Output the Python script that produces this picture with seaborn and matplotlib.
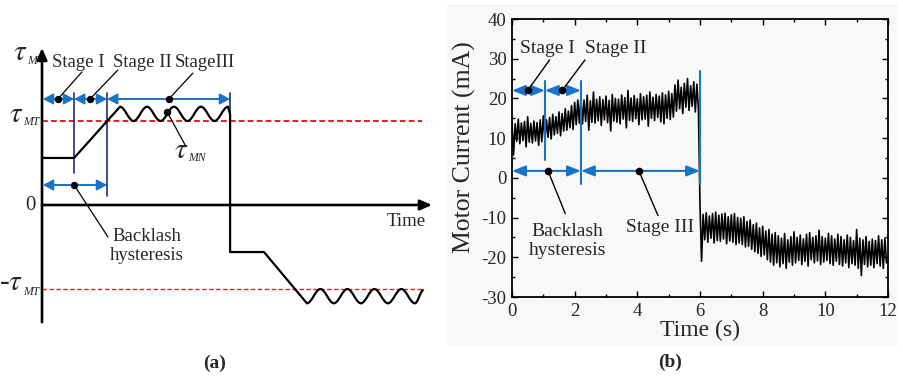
import numpy as np
import pandas as pd
import matplotlib
matplotlib.use("Agg")
import matplotlib.pyplot as plt
import seaborn as sns
from matplotlib.path import Path
from matplotlib.patches import PathPatch, Rectangle

sns.set_theme(style="ticks")
plt.rcParams["font.family"] = ["Liberation Serif", "DejaVu Serif"]
plt.rcParams["mathtext.fontset"] = "stix"
plt.rcParams["axes.unicode_minus"] = False

# ---------------- data: panel (a) schematic ----------------
ramp_up_x = [0.0, 1.07, 2.6]
ramp_up_y = [0.56, 0.56, 1.17]
pos_wave_x = [2.6, 3.05, 3.5, 3.95, 4.4, 4.85, 5.3, 5.75, 6.2]
pos_wave_y = [1.17, 1.0, 1.17, 1.0, 1.17, 1.0, 1.17, 1.0, 1.17]
drop_x = [6.27, 6.27, 7.4, 8.83]
drop_y = [1.08, -0.56, -0.56, -1.17]
neg_wave_x = [8.83, 9.28, 9.73, 10.18, 10.63, 11.08, 11.53, 11.98, 12.43, 12.72]
neg_wave_y = [-1.17, -1.0, -1.17, -1.0, -1.17, -1.0, -1.17, -1.0, -1.17, -1.01]
tau_mt = 1.0
stage_bounds_a = [0.03, 1.07, 2.17, 6.27]
stage_labels_a = ["Stage I", "Stage II", "StageIII"]

# ---------------- data: panel (b) motor current ----------------
current_hi = [
    14.0, 13.6, 14.8, 13.8, 14.2, 15.4, 13.7, 14.3, 13.9, 14.6,
    15.6, 14.6, 15.2, 16.0, 15.4, 16.6, 16.2, 17.4, 16.8, 18.2, 19.0, 19.6,
    20.2, 19.6, 20.8, 19.4, 21.6, 19.8, 20.4, 19.7, 20.6, 19.5,
    21.0, 20.0, 19.8, 20.9, 20.2, 22.0, 20.1, 20.7, 19.9, 21.2,
    20.4, 20.8, 21.6, 20.3, 21.0, 20.6, 21.4, 20.9, 21.8, 21.2,
    23.4, 24.6, 22.8, 23.8, 25.0, 23.2, 24.2, 23.6,
    -7.0, -9.2, -8.8, -9.6, -9.0, -8.6, -9.4, -9.1, -8.9, -9.8, -9.3, -9.0, -10.0,
    -10.2, -9.8, -11.0, -10.6, -11.8, -11.4, -12.6, -12.2, -13.4, -13.0, -14.2, -13.8,
    -14.6, -15.2, -14.0, -15.6, -14.8, -13.6, -15.0, -14.4, -15.4, -14.2,
    -13.8, -15.0, -14.6, -13.2, -14.8, -15.2, -14.0, -14.6, -15.4, -14.2,
    -14.8, -15.6, -14.4, -15.0, -15.8, -13.0, -15.2, -15.6, -14.8, -16.0,
    -15.4, -15.8, -14.6, -15.6, -15.2,
]
current_lo = [
    5.8, 9.2, 8.6, 9.4, 7.8, 9.0, 8.8, 9.3, 8.2, 9.1,
    9.6, 10.2, 9.8, 10.8, 11.2, 10.6, 11.8, 12.0, 12.6, 12.2, 13.4, 13.8,
    13.6, 14.2, 12.0, 14.0, 13.8, 14.4, 13.2, 14.6, 13.9, 11.8,
    14.3, 14.0, 13.6, 14.8, 12.6, 14.5, 14.2, 14.9, 13.4, 14.6,
    14.8, 13.0, 15.0, 14.4, 15.2, 14.1, 13.6, 15.0, 14.7, 15.3,
    16.8, 17.4, 16.2, 17.8, 17.0, 18.0, 16.6, 17.2,
    -21.0, -15.6, -16.2, -15.2, -16.4, -15.8, -16.0, -15.4, -16.6, -15.9, -16.2, -16.8, -16.4,
    -16.8, -17.4, -17.2, -18.0, -18.6, -19.0, -19.8, -19.4, -20.6, -21.2, -22.0, -21.4,
    -22.4, -21.6, -22.8, -21.2, -22.0, -21.4, -20.8, -21.8, -21.0, -22.2,
    -20.6, -21.4, -20.9, -21.8, -21.2, -20.8, -21.6, -22.0, -21.0, -21.8,
    -22.2, -21.4, -22.6, -21.6, -22.0, -22.8, -24.6, -21.8, -22.4, -22.0,
    -22.6, -21.6, -22.2, -22.8, -21.4,
]
sample_step = 0.1
stage_bounds_b = [0.0, 1.05, 2.2, 6.0]
x_ticks = [0, 2, 4, 6, 8, 10, 12]
y_ticks = [-30, -20, -10, 0, 10, 20, 30, 40]

BLUE = "#1a74c6"
NAVY = "#1d2f7e"
RED = "#dc2626"

fig = plt.figure(figsize=(9.04, 3.84), dpi=100)
fig.patch.set_facecolor("white")
fig.add_artist(Rectangle((447 / 904, 1 - 345 / 384), (898 - 447) / 904, (345 - 4) / 384,
                         transform=fig.transFigure, facecolor="#f8f8f8",
                         edgecolor="none", zorder=0))

# ================= panel (a) =================
axa = fig.add_axes([0, 0, 450 / 904, 1])
axa.set_xlim(-42 / 30, 408 / 30)
axa.set_ylim(-179 / 84, 205 / 84)
axa.axis("off")


def wave_segments(xs, ys):
    verts, codes = [], []
    for (x0, y0), (x1, y1) in zip(zip(xs[:-1], ys[:-1]), zip(xs[1:], ys[1:])):
        dx = x1 - x0
        verts += [(x0 + 0.36 * dx, y0), (x1 - 0.36 * dx, y1), (x1, y1)]
        codes += [Path.CURVE4] * 3
    return verts, codes


verts = list(zip(ramp_up_x, ramp_up_y))
codes = [Path.MOVETO] + [Path.LINETO] * (len(ramp_up_x) - 1)
v, c = wave_segments(pos_wave_x, pos_wave_y)
verts += v
codes += c
verts += list(zip(drop_x, drop_y))
codes += [Path.LINETO] * len(drop_x)
v, c = wave_segments(neg_wave_x, neg_wave_y)
verts += v
codes += c
axa.add_patch(PathPatch(Path(verts, codes), fill=False, lw=1.6, ec="black",
                        capstyle="butt", joinstyle="round", zorder=4))

# threshold dashed lines
sns.lineplot(x=[0, 12.67], y=[tau_mt, tau_mt], color=RED, lw=1.4,
             dashes=False, ax=axa, zorder=2).lines[-1].set_dashes((3, 1.6))
axa.plot([0, 12.75], [-tau_mt, -tau_mt], color=RED, lw=1.0, dashes=(3.2, 1.8), zorder=2)

# axes arrows
arr_k = dict(arrowstyle="-|>,head_length=0.5,head_width=0.22", lw=1.9, color="black",
             shrinkA=0, shrinkB=0, mutation_scale=14)
axa.annotate("", xy=(13.0, 0), xytext=(0, 0), arrowprops=arr_k, zorder=5)
axa.annotate("", xy=(0, 1.87), xytext=(0, -1.395), arrowprops=arr_k, zorder=5)

# stage boundary lines
axa.plot([stage_bounds_a[1]] * 2, [1.333, 0.38], color=NAVY, lw=1.2, zorder=3)
axa.plot([stage_bounds_a[2]] * 2, [1.333, 0.107], color=NAVY, lw=1.2, zorder=3)
axa.plot([stage_bounds_a[3]] * 2, [1.333, 1.10], color=NAVY, lw=1.2, zorder=3)

arr_b = dict(arrowstyle="<|-|>,head_length=0.6,head_width=0.32", lw=1.4, color=BLUE,
             shrinkA=0, shrinkB=0, mutation_scale=10)
for x0, x1 in zip(stage_bounds_a[:-1], stage_bounds_a[1:]):
    axa.annotate("", xy=(x1, 1.262), xytext=(x0, 1.262), arrowprops=arr_b, zorder=3)
axa.annotate("", xy=(stage_bounds_a[2], 0.238), xytext=(stage_bounds_a[0], 0.238),
             arrowprops=arr_b, zorder=3)

# leader lines with dots
leaders_a = [((0.53, 1.262), (1.33, 1.583)), ((1.6, 1.262), (2.53, 1.607)),
             ((4.23, 1.262), (5.03, 1.571)), ((4.17, 1.11), (4.77, 0.714)),
             ((1.07, 0.238), (2.2, -0.381))]
for (x0, y0), (x1, y1) in leaders_a:
    axa.plot([x0, x1], [y0, y1], color="black", lw=0.9, zorder=5)
    axa.plot([x0], [y0], "o", color="black", ms=4.3, zorder=6)

fs_a = 13.5
for lab, xl in zip(stage_labels_a, [0.33, 2.37, 4.43]):
    axa.text(xl, 1.70, lab, fontsize=fs_a, ha="left", va="center")


def tau_label(ax, x_join, base_tau, base_sub, sub, prefix=""):
    ax.text(x_join, base_tau, prefix + r"$\tau$", fontsize=21, ha="right",
            va="baseline")
    ax.text(x_join, base_sub, sub, fontsize=8.5, style="italic", ha="left",
            va="baseline")


# (x of tau/subscript junction, tau baseline, subscript baseline) in schematic units
tau_label(axa, -0.5, (205 - 60) / 84, (205 - 64) / 84, "M")
tau_label(axa, -0.62, (205 - 122) / 84, (205 - 125) / 84, "MT")
tau_label(axa, -0.62, (205 - 290) / 84, (205 - 295) / 84, "MT", prefix="-")
tau_label(axa, 4.87, (205 - 158) / 84, (205 - 161) / 84, "MN")

axa.text(-0.22, 0.0, "0", fontsize=15, ha="right", va="center")
axa.text(11.5, -0.2, "Time", fontsize=fs_a, ha="left", va="center")
axa.text(3.5, -0.49, "Backlash\nhysteresis", fontsize=fs_a, ha="center", va="center",
         linespacing=1.15)

# ================= panel (b) =================
axb = fig.add_axes([512 / 904, 1 - 297 / 384, 376 / 904, 278 / 384])
axb.set_facecolor("none")

t_grid = np.round(np.arange(len(current_hi)) * sample_step, 2)
t_all = np.empty(2 * len(t_grid))
v_all = np.empty(2 * len(t_grid))
t_all[0::2] = t_grid
t_all[1::2] = t_grid + sample_step / 2
v_all[0::2] = current_hi
v_all[1::2] = current_lo
df = pd.DataFrame({"t": t_all, "mA": v_all})
sns.lineplot(data=df, x="t", y="mA", sort=False, estimator=None, color="black",
             lw=1.2, ax=axb, zorder=2)

axb.set_xlim(0, 12)
axb.set_ylim(-30, 40)
axb.set_xticks(x_ticks)
axb.set_yticks(y_ticks)
axb.set_xticks(np.arange(1, 12, 2), minor=True)
axb.set_yticks(np.arange(-25, 40, 10), minor=True)
axb.tick_params(which="both", direction="in", top=True, right=True, width=1.0,
                color="black", labelsize=13.5, pad=4)
axb.tick_params(which="major", length=4.3)
axb.tick_params(which="minor", length=2.3)
for s in axb.spines.values():
    s.set_linewidth(1.3)
    s.set_color("black")
axb.set_xlabel("Time (s)", fontsize=17, labelpad=0)
axb.set_ylabel("Motor Current (mA)", fontsize=18.5, labelpad=0)
axb.yaxis.set_label_coords(-0.095, 0.54)

axb.plot([stage_bounds_b[1]] * 2, [4.5, 24.5], color=BLUE, lw=1.5, zorder=3)
axb.plot([stage_bounds_b[2]] * 2, [-1.5, 24.5], color=BLUE, lw=1.5, zorder=3)
axb.plot([stage_bounds_b[3]] * 2, [-1.5, 27], color=BLUE, lw=1.5, zorder=3)

arr_bb = dict(arrowstyle="<|-|>,head_length=0.8,head_width=0.32", lw=1.5, color=BLUE,
              shrinkA=0, shrinkB=0, mutation_scale=10)
for x0, x1 in zip(stage_bounds_b[:2], stage_bounds_b[1:3]):
    axb.annotate("", xy=(x1, 22), xytext=(x0, 22), arrowprops=arr_bb, zorder=3)
axb.annotate("", xy=(stage_bounds_b[2], 1.75), xytext=(stage_bounds_b[0], 1.75),
             arrowprops=arr_bb, zorder=3)
axb.annotate("", xy=(stage_bounds_b[3], 1.75), xytext=(stage_bounds_b[2], 1.75),
             arrowprops=arr_bb, zorder=3)

leaders_b = [((0.5, 22), (1.2, 29.7)), ((1.6, 22), (2.33, 29.7)),
             ((1.15, 1.75), (1.7, -9)), ((4.05, 1.75), (4.66, -9.5))]
for (x0, y0), (x1, y1) in leaders_b:
    axb.plot([x0, x1], [y0, y1], color="black", lw=1.0, zorder=4)
    axb.plot([x0], [y0], "o", color="black", ms=4.5, zorder=5)

axb.text(0.25, 32.6, "Stage I", fontsize=14, ha="left", va="center")
axb.text(2.33, 32.6, "Stage II", fontsize=14, ha="left", va="center")
axb.text(1.76, -15.9, "Backlash\nhysteresis", fontsize=14, ha="center", va="center",
         linespacing=1.1)
axb.text(4.73, -12.6, "Stage III", fontsize=14, ha="center", va="center")

fig.text(215 / 904, 1 - 363 / 384, "(a)", fontsize=14, fontweight="bold",
         ha="center", va="center")
fig.text(670 / 904, 1 - 362 / 384, "(b)", fontsize=14, fontweight="bold",
         ha="center", va="center")

fig.savefig("out.png", dpi=100, facecolor="white")
